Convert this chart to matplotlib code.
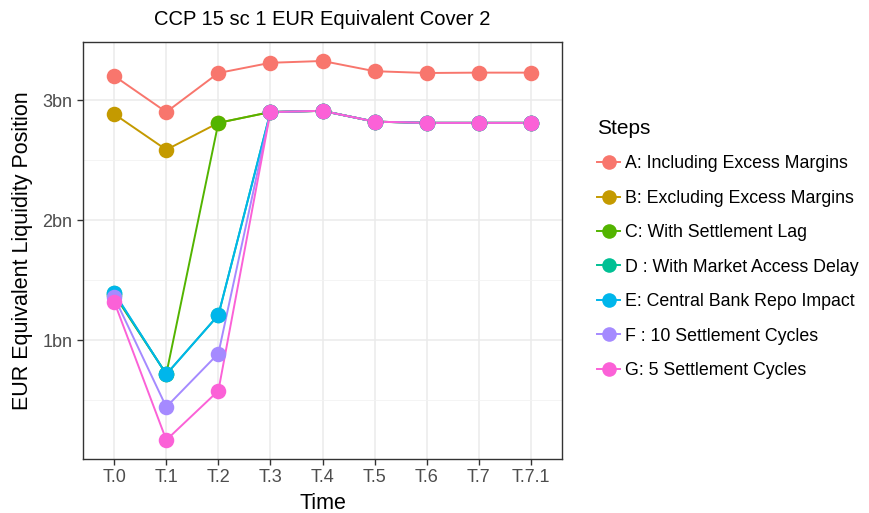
import matplotlib
matplotlib.use("Agg")
import matplotlib.pyplot as plt
from matplotlib.lines import Line2D

plt.rcParams['font.family'] = ['Liberation Sans', 'DejaVu Sans']

times = ["T.0", "T.1", "T.2", "T.3", "T.4", "T.5", "T.6", "T.7", "T.7.1"]

step_names = [
    "A: Including Excess Margins",
    "B: Excluding Excess Margins",
    "C: With Settlement Lag",
    "D : With Market Access Delay",
    "E: Central Bank Repo Impact",
    "F : 10 Settlement Cycles",
    "G: 5 Settlement Cycles",
]

# EUR equivalent liquidity position, in billions
step_a = [3.20, 2.90, 3.225, 3.31, 3.325, 3.24, 3.225, 3.228, 3.228]
step_b = [2.883, 2.586, 2.81, 2.90, 2.91, 2.82, 2.81, 2.81, 2.81]
step_c = [1.38, 0.72, 2.81, 2.90, 2.91, 2.82, 2.81, 2.81, 2.81]
step_d = [1.39, 0.717, 1.21, 2.90, 2.91, 2.82, 2.81, 2.81, 2.81]
step_e = [1.397, 0.717, 1.21, 2.90, 2.91, 2.82, 2.81, 2.81, 2.81]
step_f = [1.36, 0.445, 0.89, 2.90, 2.91, 2.82, 2.81, 2.81, 2.81]
step_g = [1.32, 0.17, 0.58, 2.90, 2.91, 2.82, 2.81, 2.81, 2.81]

series = [step_a, step_b, step_c, step_d, step_e, step_f, step_g]
colors = ["#F8766D", "#C49A00", "#53B400", "#00C094", "#00B6EB", "#A58AFF", "#FB61D7"]

fig = plt.figure(figsize=(8.69, 5.13), dpi=100)
ax = fig.add_axes([83 / 869, 54 / 513, (562 - 83) / 869, (459 - 42) / 513])

x = list(range(len(times)))
for vals, col in zip(series, colors):
    ax.plot(x, vals, color=col, lw=1.4, zorder=3)
    ax.scatter(x, vals, s=125, color=col, zorder=4, linewidths=0)

ax.set_xlim(-0.6, len(times) - 1 + 0.6)
ax.set_ylim(0.012, 3.483)
ax.set_xticks(x)
ax.set_xticklabels(times)
ax.set_yticks([1, 2, 3])
ax.set_yticklabels(["1bn", "2bn", "3bn"])
ax.set_yticks([0.5, 1.5, 2.5], minor=True)

ax.grid(True, which='major', color='#EBEBEB', lw=1.1, zorder=0)
ax.grid(True, which='minor', axis='y', color='#F2F2F2', lw=0.6, zorder=0)
ax.set_axisbelow(True)
for sp in ax.spines.values():
    sp.set_color('#333333')
    sp.set_linewidth(1.0)
ax.tick_params(axis='both', which='major', colors='#333333', labelcolor='#4D4D4D',
               labelsize=13, length=4, width=1)
ax.tick_params(axis='y', which='minor', length=0)

ax.set_xlabel("Time", fontsize=15.5, labelpad=5)
ax.set_ylabel("EUR Equivalent Liquidity Position", fontsize=15.5, labelpad=7)
ax.set_title("CCP 15 sc 1 EUR Equivalent Cover 2", fontsize=14.5, pad=12)

handles = [Line2D([0], [0], color=c, lw=1.4, marker='o', markersize=10.5,
                  markeredgewidth=0) for c in colors]
leg = fig.legend(handles, step_names, loc='upper left', bbox_to_anchor=(597 / 869, 1 - 119 / 513),
                 frameon=False, title="Steps", fontsize=12.8, title_fontsize=15,
                 labelspacing=0.98, handlelength=1.3, handletextpad=0.3, borderpad=0,
                 borderaxespad=0)
leg._legend_box.align = "left"

fig.savefig("out.png", dpi=100)
